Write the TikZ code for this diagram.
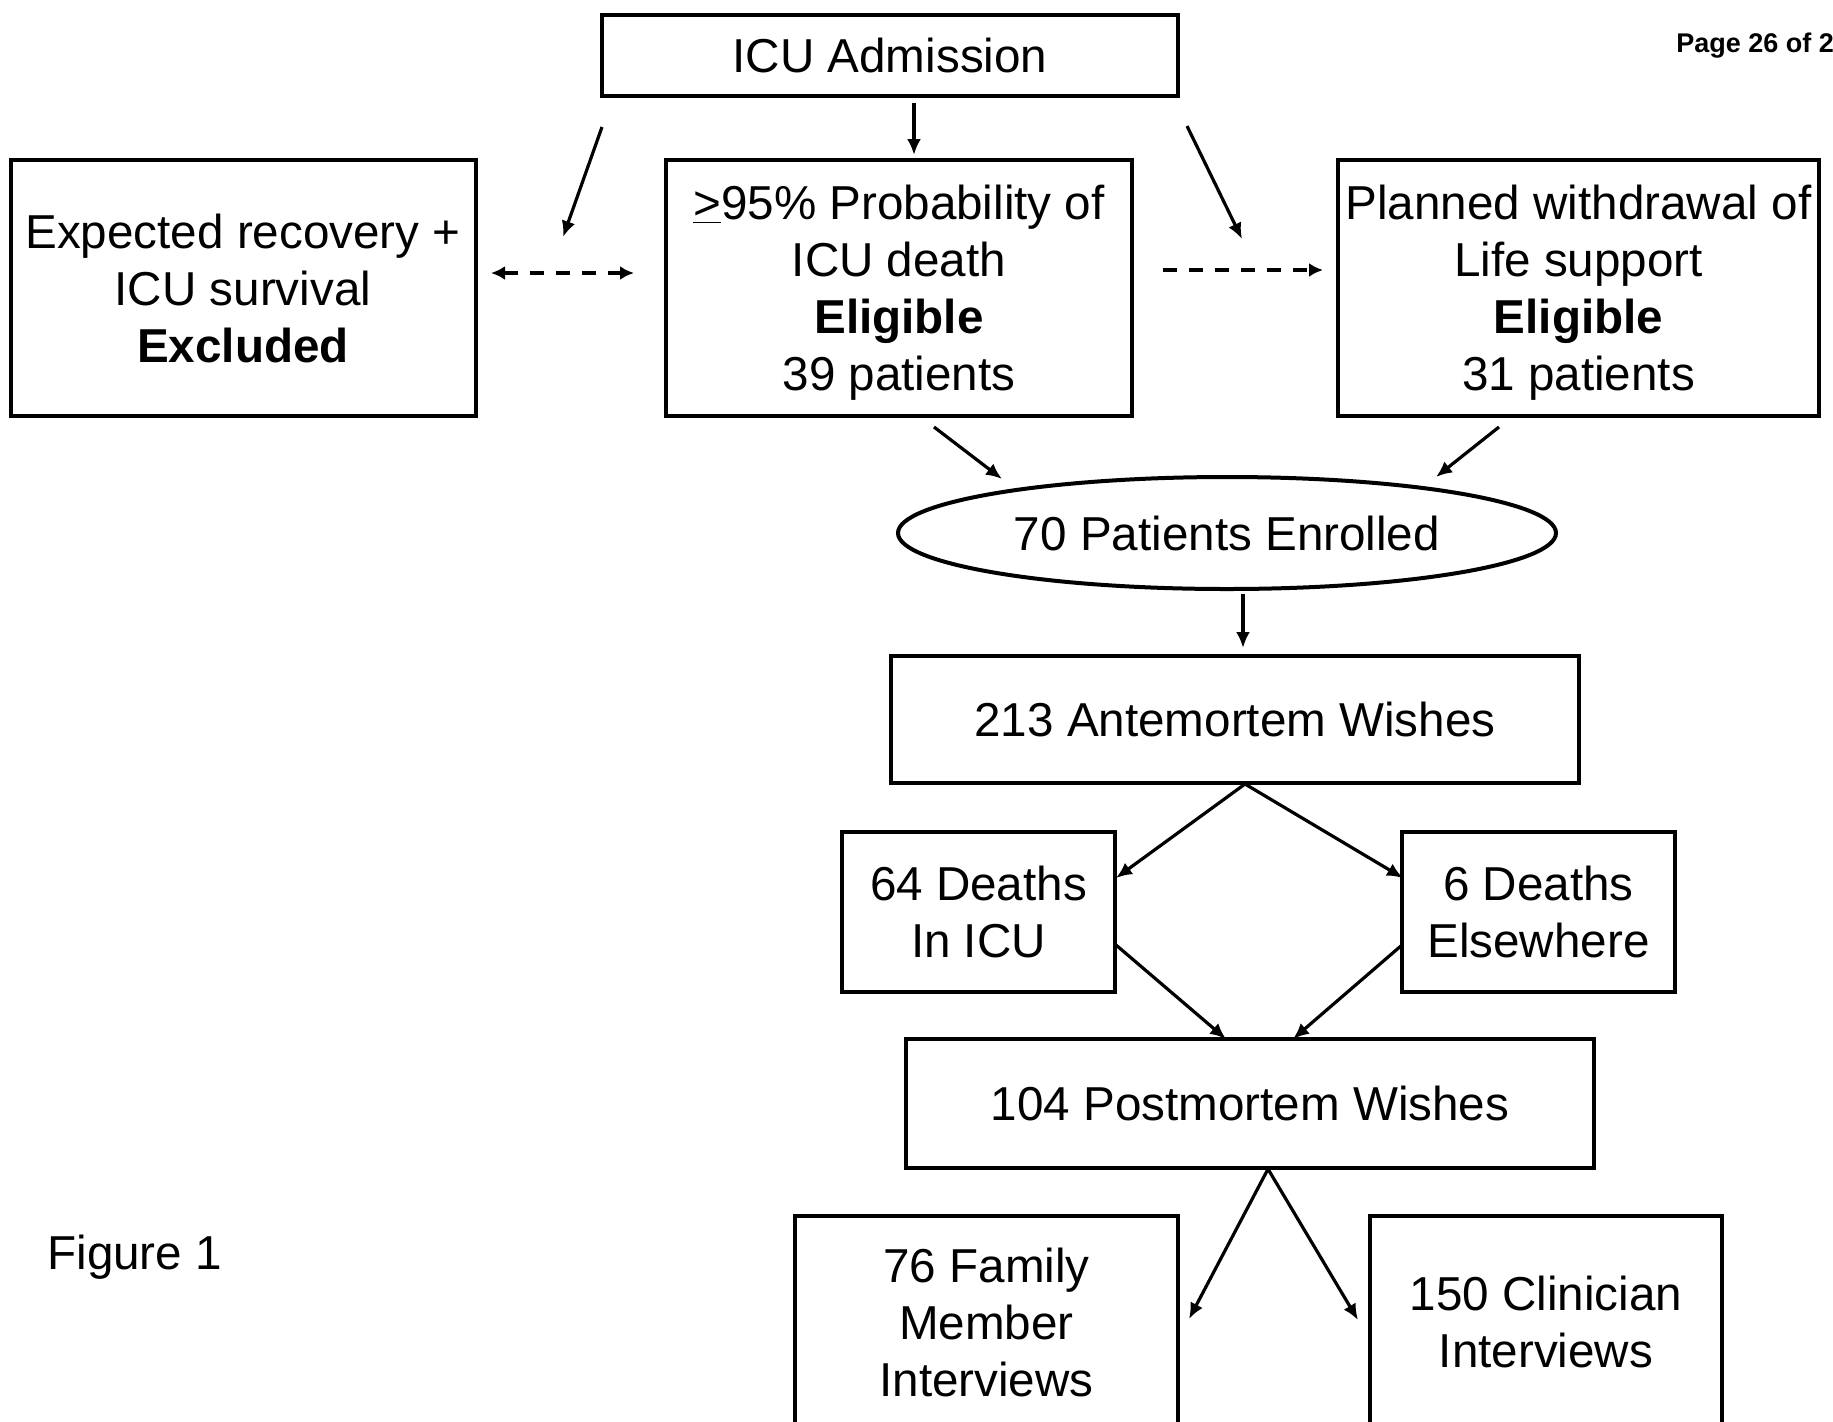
\documentclass[tikz,border=0pt]{standalone}
\usepackage{fontspec}
\setmainfont{Liberation Sans}
\usetikzlibrary{arrows.meta,shapes.geometric,calc}
\begin{document}
\begin{tikzpicture}[x=0.5pt,y=-0.5pt,
  txt/.style={font=\fontsize{23.8}{28.5}\selectfont},
  box/.style={txt, draw, line width=2pt, rectangle, inner sep=0pt, align=center},
  tip/.style={Latex[length=8pt,width=7pt]},
  dtip/.style={Latex[length=7pt,width=7pt]},
  arr/.style={line width=1.6pt, -{Latex[length=8pt,width=7pt]}},
  darr/.style={line width=2.4pt, dash pattern=on 7pt off 6pt, -{Latex[length=7pt,width=7pt]}},
]
\useasboundingbox (0,0) rectangle (1833,1421);

% boxes
\node[box, minimum width=288pt, minimum height=40.5pt] (adm) at (890,55.5) {\raisebox{-1pt}{ICU Admission}};
\node[box, minimum width=232.5pt, minimum height=128pt] (excl) at (243,288) {Expected recovery +\\ICU survival\\\textbf{Excluded}};
\node[box, minimum width=233pt, minimum height=128pt, text depth=0pt] (prob) at (899,288) {\underline{>}95\% Probability of\\ICU death\\\textbf{Eligible}\\39 patients};
\node[box, minimum width=240.5pt, minimum height=128pt, text depth=0pt] (plan) at (1578.5,288) {Planned withdrawal of\\Life support\\\textbf{Eligible}\\31 patients};
\node[box, ellipse, minimum width=329pt, minimum height=56pt] (enr) at (1227,533) {70 Patients Enrolled};
\node[box, minimum width=344pt, minimum height=63.5pt] (ante) at (1235,719.5) {213 Antemortem Wishes};
\node[box, minimum width=136.5pt, minimum height=80pt] (d64) at (978.5,912) {64 Deaths\\In ICU};
\node[box, minimum width=136.5pt, minimum height=80pt] (d6) at (1538.5,912) {6 Deaths\\Elsewhere};
\node[box, minimum width=344pt, minimum height=64.5pt] (post) at (1250,1103.5) {104 Postmortem Wishes};
\node[box, minimum width=191.5pt, minimum height=106pt] (fam) at (986.5,1322) {76 Family\\Member\\Interviews};
\node[box, minimum width=176pt, minimum height=106pt] (clin) at (1546,1322) {150 Clinician\\Interviews};

% free texts
\node[txt, anchor=west, inner sep=0pt] (fig) at (47,1257) {Figure 1};
\node[anchor=base west, inner sep=0pt, font=\bfseries\fontsize{13.5}{16}\selectfont] (page) at (1676,52) {Page 26 of 27};

% arrow end points
\coordinate (a1) at (914,103);  \coordinate (b1) at (914,155);
\coordinate (a2) at (602,127);  \coordinate (b2) at (563,237);
\coordinate (a3) at (1187,126); \coordinate (b3) at (1242,239);
\coordinate (a4) at (491,273);  \coordinate (b4) at (634,273);
\coordinate (a5) at (1163,270); \coordinate (b5) at (1323,270);
\coordinate (a6) at (934,427);  \coordinate (b6) at (1002,479);
\coordinate (a7) at (1499,427); \coordinate (b7) at (1436,477);
\coordinate (a8) at (1243,594); \coordinate (b8) at (1243,648);
\coordinate (a9) at (1245,784);
\coordinate (b9) at (1116,878); \coordinate (b10) at (1403,878);
\coordinate (a11) at (1116,945); \coordinate (b11) at (1226,1039);
\coordinate (a12) at (1402,945); \coordinate (b12) at (1293,1039);
\coordinate (a13) at (1268,1169);
\coordinate (b13) at (1189,1319); \coordinate (b14) at (1358,1320);

% connectors
\draw[arr] (a1) -- (b1);
\draw[arr] (a2) -- (b2);
\draw[arr] (a3) -- (b3);
\draw[darr, {Latex[length=7pt,width=7pt]}-{Latex[length=7pt,width=7pt]}] (a4) -- (b4);
\draw[darr] (a5) -- (b5);
\draw[arr] (a6) -- (b6);
\draw[arr] (a7) -- (b7);
\draw[arr] (a8) -- (b8);
\draw[arr] (a9) -- (b9);
\draw[arr] (a9) -- (b10);
\draw[arr] (a11) -- (b11);
\draw[arr] (a12) -- (b12);
\draw[arr] (a13) -- (b13);
\draw[arr] (a13) -- (b14);
\end{tikzpicture}
\end{document}
